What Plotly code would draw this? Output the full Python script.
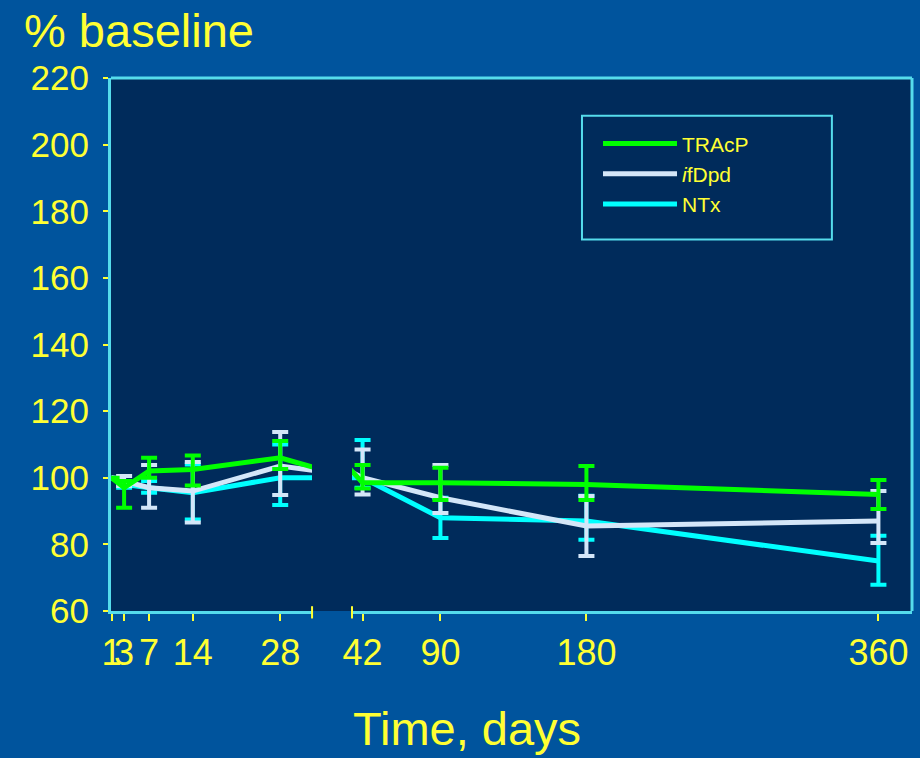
import plotly.graph_objects as go

# time points (days) - axis is broken between 28 and 42
days = [1, 3, 7, 14, 28, 42, 90, 180, 360]
tick_labels = ["1", "3", "7", "14", "28", "42", "90", "180", "360"]

tracp = [100, 97, 102, 102.5, 106, 98.5, 98.5, 98, 95]
tracp_up = [None, 2, 4, 4.2, 5, 5.3, 4.5, 5.5, 4.3]
tracp_dn = [None, 6, 2, 4.8, 3.4, 1.7, 5.2, 4.7, 4.4]

ifdpd = [100, 99, 97, 96, 103.5, 100, 94, 85.5, 87]
ifdpd_up = [None, 1.5, 6.8, 8.7, 10.2, 8.5, 9.8, 9, 9]
ifdpd_dn = [None, 1.5, 6, 9.4, 8.7, 5, 4.6, 9, 6.6]

ntx = [100, 98, 97, 95.5, 100, 100, 88, 87, 75]
ntx_up = [None, 1, 2, 8.5, 10, 11.3, 6, 7.6, 7.6]
ntx_dn = [None, 1, 1.5, 8, 8.2, 3, 6.1, 5.6, 7.1]

y_ticks = [60, 80, 100, 120, 140, 160, 180, 200, 220]

PAPER = '#00549d'
PLOT = '#002b5b'
BORDER = '#55dcec'
YELLOW = '#ffff33'
FONT = 'Liberation Sans, Arial, sans-serif'

# left / right pieces of the broken time axis
left_dom = [0, 0.251]
right_dom = [0.3009, 1]

series = [
    ('NTx', ntx, ntx_up, ntx_dn, '#00ffff'),
    ('<i>i</i>fDpd', ifdpd, ifdpd_up, ifdpd_dn, '#d4e6f8'),
    ('TRAcP', tracp, tracp_up, tracp_dn, '#00ff00'),
]

fig = go.Figure()
for name, vals, up, dn, color in series:
    for xa in ['x', 'x2']:
        fig.add_trace(go.Scatter(
            x=days, y=vals, xaxis=xa, yaxis='y',
            mode='lines', name=name,
            line=dict(color=color, width=5),
            error_y=dict(type='data', array=up, arrayminus=dn, symmetric=False,
                         color=color, thickness=4, width=8),
            showlegend=(xa == 'x'),
        ))

axis_style = dict(
    tickvals=days, ticktext=tick_labels, tickangle=0,
    showline=True, linecolor=BORDER, linewidth=3,
    ticks='outside', tickcolor=YELLOW, ticklen=7, tickwidth=2,
    tickfont=dict(family=FONT, size=36, color=YELLOW),
    ticklabelstandoff=1,
    showgrid=False, zeroline=False,
)

fig.update_layout(
    width=920, height=758,
    margin=dict(l=111, r=8, t=78, b=147),
    paper_bgcolor=PAPER,
    plot_bgcolor=PLOT,
    xaxis=dict(domain=left_dom, range=[0.9, 33.1], anchor='y', **axis_style),
    xaxis2=dict(domain=right_dom, range=[35.5, 380.7], anchor='y', **axis_style),
    yaxis=dict(
        range=[60, 220], tickvals=y_ticks,
        showline=True, linecolor=BORDER, linewidth=3,
        ticks='outside', tickcolor=YELLOW, ticklen=5, tickwidth=2,
        tickfont=dict(family=FONT, size=35, color=YELLOW),
        ticklabelstandoff=7,
        showgrid=False, zeroline=False,
    ),
    legend=dict(
        x=0.608, y=0.915, xanchor='left', yanchor='top',
        bgcolor='rgba(0,0,0,0)', borderwidth=0,
        font=dict(family=FONT, size=21, color=YELLOW),
        traceorder='reversed', itemwidth=74,
    ),
    showlegend=True,
)

# dark panel behind both pieces, plus top and right frame
fig.add_shape(type='rect', xref='paper', yref='paper', x0=0, x1=1, y0=0, y1=1,
              fillcolor=PLOT, line_width=0, layer='below')
fig.add_shape(type='line', xref='paper', yref='paper', x0=0, x1=1, y0=1, y1=1,
              line=dict(color=BORDER, width=3))
fig.add_shape(type='line', xref='paper', yref='paper', x0=1, x1=1, y0=0, y1=1,
              line=dict(color=BORDER, width=3))
# legend frame
fig.add_shape(type='rect', xref='paper', yref='paper', x0=0.588, x1=0.9, y0=0.697, y1=0.929,
              line=dict(color=BORDER, width=2))
# break marks
for xb in [left_dom[1], right_dom[0]]:
    fig.add_shape(type='line', xref='paper', yref='paper', x0=xb, x1=xb,
                  y0=0.009, y1=-0.014, line=dict(color=YELLOW, width=2))

fig.add_annotation(text='% baseline', xref='paper', yref='paper',
                   x=-0.111, y=1.09, xanchor='left', yanchor='middle',
                   showarrow=False, font=dict(family=FONT, size=47, color=YELLOW))
fig.add_annotation(text='Time, days', xref='paper', yref='paper',
                   x=0.444, y=-0.221, xanchor='center', yanchor='middle',
                   showarrow=False, font=dict(family=FONT, size=47, color=YELLOW))

fig.write_html("out.html", config={'displayModeBar': False},
               post_script="document.body.style.margin='0';")
